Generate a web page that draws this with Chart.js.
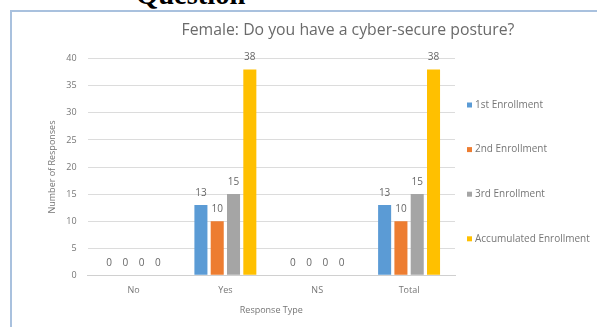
<!DOCTYPE html>
<html>
<head>
<meta charset="utf-8">
<script src="https://cdn.jsdelivr.net/npm/chart.js@4.4.1/dist/chart.umd.min.js"></script>
<style>
  html, body { margin: 0; padding: 0; background: #ffffff; overflow: hidden; width: 597px; height: 327px; }
  #frame { position: absolute; left: 10px; top: 10px; width: 600px; height: 330px;
           border-left: 2px solid #a9c1de; border-top: 2px solid #a9c1de; box-sizing: border-box; }
  #q { position: absolute; left: 136px; top: -19px; font-family: "Liberation Serif", serif; font-weight: bold;
       font-size: 28.5px; line-height: 28px; color: #000; white-space: nowrap; }
  #c { position: absolute; left: 0; top: 0; }
</style>
</head>
<body>
<div id="q">Question</div>
<div id="frame"></div>
<canvas id="c" width="696" height="327"></canvas>
<script>
const chartTitle = "Female: Do you have a cyber-secure posture?";
const categories = ["No", "Yes", "NS", "Total"];
const seriesNames = ["1st Enrollment", "2nd Enrollment", "3rd Enrollment", "Accumulated Enrollment"];
const enrollment1 = [0, 13, 0, 13];
const enrollment2 = [0, 10, 0, 10];
const enrollment3 = [0, 15, 0, 15];
const accumulated = [0, 38, 0, 38];
const seriesColors = ["#5b9bd5", "#ed7d31", "#a5a5a5", "#ffc000"];
const yTitle = "Number of Responses";
const xTitle = "Response Type";

const FONT = "'Open Sans', Lato, sans-serif";
const TEXT = "#767676";

const dataLabels = {
  id: "dataLabels",
  afterDatasetsDraw(chart) {
    const ctx = chart.ctx;
    ctx.save();
    ctx.font = "10px " + FONT;
    ctx.fillStyle = "#666666";
    ctx.textAlign = "center";
    ctx.textBaseline = "middle";
    chart.data.datasets.forEach((ds, i) => {
      const meta = chart.getDatasetMeta(i);
      meta.data.forEach((bar, j) => {
        ctx.fillText(String(ds.data[j]), bar.x, bar.y - 12);
      });
    });
    ctx.restore();
  }
};

const sideLegend = {
  id: "sideLegend",
  afterDraw(chart) {
    const ctx = chart.ctx;
    ctx.save();
    ctx.font = "10px " + FONT;
    ctx.textBaseline = "middle";
    ctx.textAlign = "left";
    chart.data.datasets.forEach((ds, i) => {
      const y = 105 + i * 44.6;
      ctx.fillStyle = ds.backgroundColor;
      ctx.fillRect(467, y - 2.5, 5, 5);
      ctx.fillStyle = TEXT;
      ctx.fillText(ds.label, 475, y);
    });
    ctx.restore();
  }
};

const allSeries = [enrollment1, enrollment2, enrollment3, accumulated];

new Chart(document.getElementById("c"), {
  type: "bar",
  data: {
    labels: categories,
    datasets: allSeries.map((vals, i) => ({
      label: seriesNames[i],
      data: vals,
      backgroundColor: seriesColors[i],
      borderWidth: 0,
      categoryPercentage: 0.71,
      barPercentage: 0.8
    }))
  },
  options: {
    responsive: false,
    devicePixelRatio: 1,
    animation: false,
    layout: { padding: 0 },
    plugins: {
      legend: { display: false },
      tooltip: { enabled: false },
      title: {
        display: true,
        text: chartTitle,
        color: "#6a6a6a",
        font: { family: FONT, size: 15.8, weight: "normal" },
        padding: { top: 21, bottom: 18.8 }
      }
    },
    scales: {
      x: {
        grid: { display: false, drawTicks: false },
        border: { display: true, color: "#d0d0d0", width: 1 },
        ticks: { color: TEXT, font: { family: FONT, size: 9 }, padding: 10 },
        title: { display: true, text: xTitle, color: TEXT, font: { family: FONT, size: 9 }, padding: { top: 0, bottom: 11.6 } },
        afterFit(scale) { scale.height = 327 - 275.3; }
      },
      y: {
        min: 0, max: 40,
        ticks: { stepSize: 5, color: TEXT, font: { family: FONT, size: 9 }, padding: 11 },
        grid: { color: "#dcdcdc", drawTicks: false },
        border: { display: false },
        title: { display: true, text: yTitle, color: TEXT, font: { family: FONT, size: 9 }, padding: { top: 47, bottom: 0 } },
        afterFit(scale) { scale.width = 87.6; }
      },
      legendSpace: {
        type: "linear",
        position: "right",
        display: true,
        ticks: { display: false },
        grid: { display: false, drawTicks: false },
        border: { display: false },
        afterFit(scale) { scale.width = 696 - 455; }
      }
    }
  },
  plugins: [dataLabels, sideLegend]
});
</script>
</body>
</html>
